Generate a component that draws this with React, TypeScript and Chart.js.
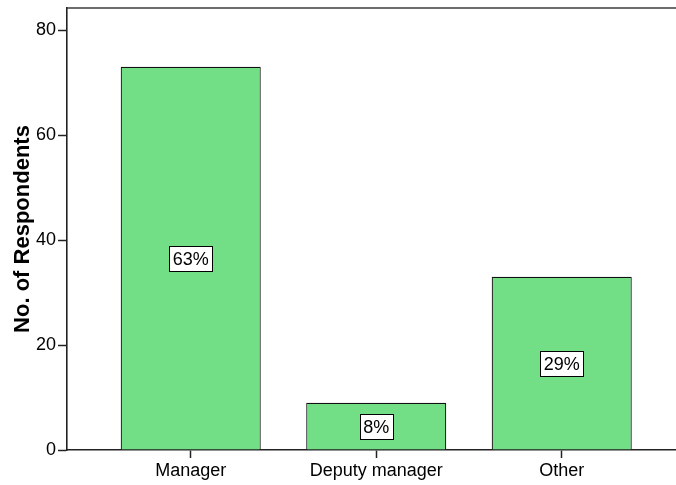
import React, { useEffect, useRef } from 'react';
import { Chart, registerables } from 'chart.js';

Chart.register(...registerables);

const categories = ['Manager', 'Deputy manager', 'Other'];
const respondents = [73, 9, 33];
const yTickValues = [0, 20, 40, 60, 80];
const yTitle = 'No. of Respondents';

const FONT = "'Liberation Sans', Arial, Helvetica, sans-serif";

export default function App() {
  const ref = useRef<HTMLCanvasElement>(null);

  useEffect(() => {
    if (!ref.current) return;
    const total = respondents.reduce((a, b) => a + b, 0);
    const pctLabels = respondents.map((v) => Math.round((v / total) * 100) + '%');

    const framePlugin = {
      id: 'frameTop',
      afterDraw(chart: any) {
        const { ctx, chartArea } = chart;
        ctx.save();
        ctx.strokeStyle = '#3c3c3c';
        ctx.lineWidth = 1.6;
        ctx.beginPath();
        ctx.moveTo(chartArea.left, chartArea.top);
        ctx.lineTo(chartArea.right, chartArea.top);
        ctx.stroke();
        ctx.restore();
      },
    };

    const boxPlugin = {
      id: 'pctBoxes',
      afterDatasetsDraw(chart: any) {
        const { ctx } = chart;
        const meta = chart.getDatasetMeta(0);
        ctx.save();
        ctx.font = `18px ${FONT}`;
        ctx.textAlign = 'center';
        ctx.textBaseline = 'middle';
        meta.data.forEach((el: any, i: number) => {
          const { x, y, base } = el.getProps(['x', 'y', 'base'], true);
          const cy = (y + base) / 2;
          const text = pctLabels[i];
          const tw = ctx.measureText(text).width;
          const w = Math.round(tw + 7);
          const h = 25;
          const bx = Math.round(x - w / 2) + 0.5;
          const by = Math.round(cy - h / 2) + 0.5;
          ctx.fillStyle = '#ffffff';
          ctx.fillRect(bx, by, w, h);
          ctx.strokeStyle = '#000000';
          ctx.lineWidth = 1;
          ctx.strokeRect(bx, by, w, h);
          ctx.fillStyle = '#000000';
          ctx.fillText(text, x, cy + 1.5);
        });
        ctx.restore();
      },
    };

    const chart = new Chart(ref.current, {
      type: 'bar',
      data: {
        datasets: [
          {
            data: categories.map((c, i) => ({ x: i, y: respondents[i] })),
            backgroundColor: '#72de86',
            borderColor: '#111111',
            borderWidth: 1.2,
            barPercentage: 0.755,
            categoryPercentage: 1,
          },
        ],
      },
      options: {
        responsive: false,
        animation: false,
        layout: { padding: { top: 8, right: 0, left: 0, bottom: 0 } },
        plugins: {
          legend: { display: false },
          tooltip: { enabled: false },
        },
        scales: {
          x: {
            type: 'linear',
            min: -0.667,
            max: 2.616,
            offset: false,
            z: 1,
            afterFit(scale: any) {
              scale.height = 35;
              scale.paddingLeft = 0;
              scale.paddingRight = 0;
            },
            afterBuildTicks(scale: any) {
              scale.ticks = categories.map((c, i) => ({ value: i }));
            },
            grid: {
              offset: false,
              drawOnChartArea: false,
              drawTicks: true,
              tickLength: 8,
              tickColor: '#222',
              tickWidth: 1.5,
            },
            border: { display: true, color: '#222', width: 1.6 },
            ticks: {
              padding: 2,
              color: '#000',
              font: { family: FONT, size: 18 },
              maxRotation: 0,
              autoSkip: false,
              callback: (v: any) => {
                const i = Math.round(Number(v));
                return Math.abs(Number(v) - i) < 1e-6 && categories[i] ? categories[i] : '';
              },
            },
          },
          y: {
            type: 'linear',
            min: 0,
            max: 84.2,
            z: 1,
            afterFit(scale: any) {
              scale.width = 67;
              scale.paddingTop = 0;
              scale.paddingBottom = 0;
            },
            afterBuildTicks(scale: any) {
              scale.ticks = yTickValues.map((v) => ({ value: v }));
            },
            grid: {
              drawOnChartArea: false,
              drawTicks: true,
              tickLength: 9,
              tickColor: '#222',
              tickWidth: 1.5,
            },
            border: { display: true, color: '#222', width: 1.6 },
            ticks: {
              padding: 2,
              color: '#000',
              font: { family: FONT, size: 18 },
            },
            title: {
              display: true,
              text: yTitle,
              color: '#000',
              font: { family: FONT, size: 22, weight: 'bold' },
              padding: { top: 10, bottom: 0 },
            },
          },
        },
      },
      plugins: [framePlugin, boxPlugin],
    });

    return () => chart.destroy();
  }, []);

  return (
    <div style={{ position: 'absolute', left: 0, top: 0, width: 676, height: 485, background: '#fff' }}>
      <canvas ref={ref} width={676} height={485} style={{ display: 'block', width: 676, height: 485 }} />
    </div>
  );
}
